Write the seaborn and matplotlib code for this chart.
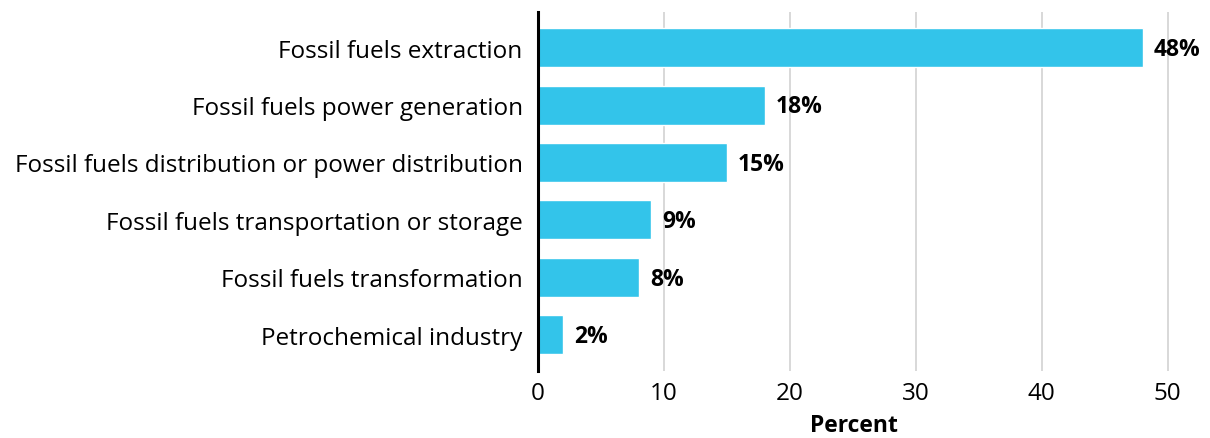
import matplotlib
matplotlib.use("Agg")
import matplotlib.pyplot as plt
import seaborn as sns
import pandas as pd

categories = [
    "Fossil fuels extraction",
    "Fossil fuels power generation",
    "Fossil fuels distribution or power distribution",
    "Fossil fuels transportation or storage",
    "Fossil fuels transformation",
    "Petrochemical industry",
]
percent = [48, 18, 15, 9, 8, 2]
x_ticks = [0, 10, 20, 30, 40, 50]

df = pd.DataFrame({"category": categories, "percent": percent})

sns.set_style("white")
plt.rcParams["font.family"] = ["Open Sans", "DejaVu Sans"]
plt.rcParams["text.color"] = "black"

fig = plt.figure(figsize=(12.1, 4.39), dpi=100)
ax = fig.add_axes([0.4446, 0.1526, 0.5215, 0.8178])

sns.barplot(data=df, x="percent", y="category", color="#33C4EA",
            saturation=1, width=0.68, ax=ax, zorder=2)

for patch, v in zip(ax.patches, percent):
    ax.annotate(f"{v}%", (patch.get_width(), patch.get_y() + patch.get_height() / 2),
                xytext=(8, -1), textcoords="offset points", va="center", ha="left",
                fontsize=16.5, fontweight="bold", color="black", zorder=3)

ax.set_xlim(0, 50.1)
ax.set_ylim(5.63, -0.62)
ax.set_xticks(x_ticks)
ax.xaxis.grid(True, color="#d6d6d6", linewidth=1.3, zorder=0)
ax.set_axisbelow(True)
for side in ["top", "right", "bottom"]:
    ax.spines[side].set_visible(False)
ax.spines["left"].set_color("black")
ax.spines["left"].set_linewidth(2.2)
ax.tick_params(axis="both", length=0, labelsize=17.5, colors="black")
ax.tick_params(axis="y", pad=11)
ax.tick_params(axis="x", pad=7)
ax.set_ylabel("")
ax.set_xlabel("Percent", fontsize=16.5, fontweight="bold", color="black", labelpad=6)

fig.savefig("out.png", dpi=100)
